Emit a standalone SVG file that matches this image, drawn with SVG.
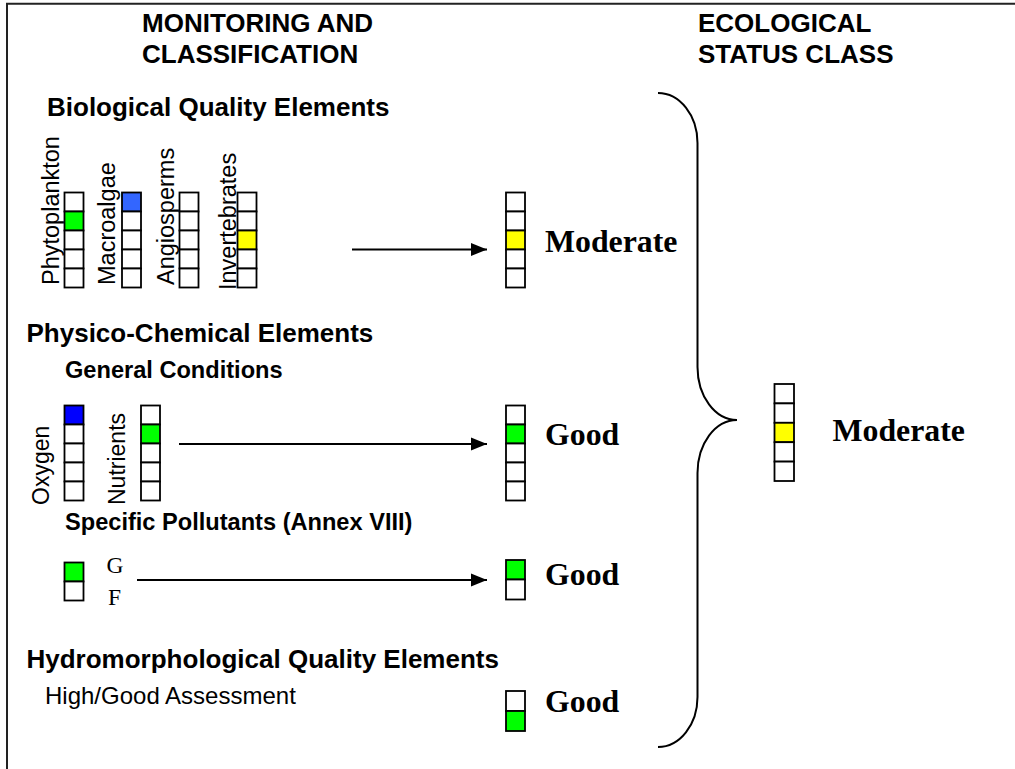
<svg xmlns="http://www.w3.org/2000/svg" width="1015" height="769" viewBox="0 0 1015 769">
<style>
.c{fill:#ffffff;stroke:#000;stroke-width:1.8}
.g{fill:#00ff00}
.y{fill:#ffff00}
.b{fill:#3366ff}
.db{fill:#0000ff}
.h{font-family:"Liberation Sans",Arial,sans-serif;font-weight:bold;font-size:26px;fill:#000}
.s{font-family:"Liberation Sans",Arial,sans-serif;font-weight:bold;font-size:23.6px;fill:#000}
.v{font-family:"Liberation Sans",Arial,sans-serif;font-size:23.5px;fill:#000}
.r{font-family:"Liberation Sans",Arial,sans-serif;font-size:24px;fill:#000}
.t{font-family:"Liberation Serif","Times New Roman",serif;font-weight:bold;font-size:31.8px;fill:#000}
.tl{font-family:"Liberation Serif","Times New Roman",serif;font-size:23.5px;fill:#000}
.ln{stroke:#000;stroke-width:2;fill:none}
</style>
<defs>
<marker id="ah" markerUnits="userSpaceOnUse" markerWidth="17" markerHeight="14" refX="16" refY="7" orient="auto">
<path d="M0,0.5 L16,7 L0,13.5 z" fill="#000"/>
</marker>
</defs>
<path d="M7,769 V3.7 H1015" fill="none" stroke="#222" stroke-width="2"/>
<g id="headers">
<text class="h" x="142" y="32">MONITORING AND</text>
<text class="h" x="142" y="62.5">CLASSIFICATION</text>
<text class="h" x="698" y="31.5">ECOLOGICAL</text>
<text class="h" x="698" y="62.5">STATUS CLASS</text>
</g>
<g id="biological">
<text class="h" x="47" y="116">Biological Quality Elements</text>
<g id="phytoplankton">
<text class="v" transform="translate(58.5,285) rotate(-90)">Phytoplankton</text>
<rect class="c" x="64.5" y="192.5" width="19" height="19"/>
<rect class="c g" x="64.5" y="211.5" width="19" height="19"/>
<rect class="c" x="64.5" y="230.5" width="19" height="19"/>
<rect class="c" x="64.5" y="249.5" width="19" height="19"/>
<rect class="c" x="64.5" y="268.5" width="19" height="19"/>
</g>
<g id="macroalgae">
<text class="v" transform="translate(115,285) rotate(-90)">Macroalgae</text>
<rect class="c b" x="122" y="192.5" width="19" height="19"/>
<rect class="c" x="122" y="211.5" width="19" height="19"/>
<rect class="c" x="122" y="230.5" width="19" height="19"/>
<rect class="c" x="122" y="249.5" width="19" height="19"/>
<rect class="c" x="122" y="268.5" width="19" height="19"/>
</g>
<g id="angiosperms">
<text class="v" transform="translate(173.5,285) rotate(-90)">Angiosperms</text>
<rect class="c" x="179.5" y="192.5" width="19" height="19"/>
<rect class="c" x="179.5" y="211.5" width="19" height="19"/>
<rect class="c" x="179.5" y="230.5" width="19" height="19"/>
<rect class="c" x="179.5" y="249.5" width="19" height="19"/>
<rect class="c" x="179.5" y="268.5" width="19" height="19"/>
</g>
<g id="invertebrates">
<text class="v" transform="translate(236,290) rotate(-90)">Invertebrates</text>
<rect class="c" x="237.5" y="192.5" width="19" height="19"/>
<rect class="c" x="237.5" y="211.5" width="19" height="19"/>
<rect class="c y" x="237.5" y="230.5" width="19" height="19"/>
<rect class="c" x="237.5" y="249.5" width="19" height="19"/>
<rect class="c" x="237.5" y="268.5" width="19" height="19"/>
</g>
</g>
<g id="bio-result">
<rect class="c" x="506" y="192.5" width="19" height="19"/>
<rect class="c" x="506" y="211.5" width="19" height="19"/>
<rect class="c y" x="506" y="230.5" width="19" height="19"/>
<rect class="c" x="506" y="249.5" width="19" height="19"/>
<rect class="c" x="506" y="268.5" width="19" height="19"/>
<text class="t" x="545" y="252">Moderate</text>
</g>
<g id="physico">
<text class="h" x="26.5" y="342">Physico-Chemical Elements</text>
<text class="s" x="65" y="377.5">General Conditions</text>
<g id="oxygen">
<text class="v" transform="translate(48.5,505) rotate(-90)" style="font-size:23px">Oxygen</text>
<rect class="c db" x="64.5" y="405.5" width="19" height="19"/>
<rect class="c" x="64.5" y="424.5" width="19" height="19"/>
<rect class="c" x="64.5" y="443.5" width="19" height="19"/>
<rect class="c" x="64.5" y="462.5" width="19" height="19"/>
<rect class="c" x="64.5" y="481.5" width="19" height="19"/>
</g>
<g id="nutrients">
<text class="v" transform="translate(125,505) rotate(-90)" style="font-size:23px">Nutrients</text>
<rect class="c" x="141" y="405.5" width="19" height="19"/>
<rect class="c g" x="141" y="424.5" width="19" height="19"/>
<rect class="c" x="141" y="443.5" width="19" height="19"/>
<rect class="c" x="141" y="462.5" width="19" height="19"/>
<rect class="c" x="141" y="481.5" width="19" height="19"/>
</g>
</g>
<g id="general-result">
<rect class="c" x="506" y="405.5" width="19" height="19"/>
<rect class="c g" x="506" y="424.5" width="19" height="19"/>
<rect class="c" x="506" y="443.5" width="19" height="19"/>
<rect class="c" x="506" y="462.5" width="19" height="19"/>
<rect class="c" x="506" y="481.5" width="19" height="19"/>
<text class="t" x="545" y="445">Good</text>
</g>
<g id="pollutants">
<text class="s" x="65" y="529.5">Specific Pollutants (Annex VIII)</text>
<rect class="c g" x="64.5" y="562.5" width="19" height="19"/>
<rect class="c" x="64.5" y="581.5" width="19" height="19"/>
<text class="tl" x="106.5" y="573">G</text>
<text class="tl" x="108" y="605">F</text>
</g>
<g id="pollutants-result">
<rect class="c g" x="506" y="560" width="19" height="19.5"/>
<rect class="c" x="506" y="579.5" width="19" height="20"/>
<text class="t" x="545" y="585">Good</text>
</g>
<g id="hydromorphological">
<text class="h" x="26.5" y="668">Hydromorphological Quality Elements</text>
<text class="r" x="45" y="704">High/Good Assessment</text>
</g>
<g id="hydro-result">
<rect class="c" x="506" y="691" width="19" height="20"/>
<rect class="c g" x="506" y="711" width="19" height="20"/>
<text class="t" x="545" y="712">Good</text>
</g>
<g id="ecological-status">
<rect class="c" x="774.5" y="384" width="19.5" height="19.4"/>
<rect class="c" x="774.5" y="403.4" width="19.5" height="19.4"/>
<rect class="c y" x="774.5" y="422.8" width="19.5" height="19.4"/>
<rect class="c" x="774.5" y="442.2" width="19.5" height="19.4"/>
<rect class="c" x="774.5" y="461.6" width="19.5" height="19.4"/>
<text class="t" x="832.5" y="441">Moderate</text>
</g>
<g id="connectors">
<line class="ln" x1="352" y1="249.5" x2="487" y2="249.5" marker-end="url(#ah)"/>
<line class="ln" x1="179" y1="444" x2="487" y2="444" marker-end="url(#ah)"/>
<line class="ln" x1="137" y1="580" x2="487" y2="580" marker-end="url(#ah)"/>
<path class="ln" d="M658,93 C679.8,93 697.5,115.4 697.5,143 L697.5,367 C697.5,396 715,420 737,420 C715,420 697.5,444 697.5,473 L697.5,697 C697.5,724.6 679.8,747 658,747"/>
</g>
</svg>
